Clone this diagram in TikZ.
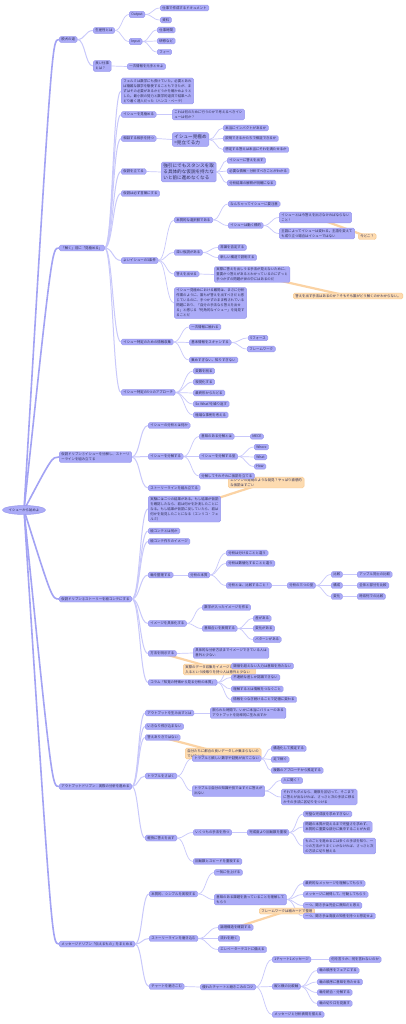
\documentclass[tikz,border=0pt]{standalone}
\usepackage{fontspec}
\usetikzlibrary{calc,shapes.geometric}
\newfontfamily\jp{Noto Sans CJK JP}
\newcommand\mmsmall{\jp\fontsize{3.4}{5}\selectfont}
\newcommand\mmmid{\jp\fontsize{4.6}{6}\selectfont}
\definecolor{nodefill}{HTML}{ABABF7}
\definecolor{nodedraw}{HTML}{9898EE}
\definecolor{linkc}{HTML}{C9C9FB}
\definecolor{rootlink}{HTML}{A3A3F4}
\definecolor{txt}{HTML}{2E2E55}
\definecolor{calfill}{HTML}{FDDBB0}
\definecolor{caldraw}{HTML}{F6C68C}
\definecolor{calline}{HTML}{FBD3A4}
\pgfdeclarelayer{back}\pgfdeclarelayer{ol}\pgfdeclarelayer{bg}\pgfdeclarelayer{cl}
\pgfsetlayers{back,ol,bg,cl,main}
\tikzset{
 box/.style={draw=nodedraw, fill=nodefill, rounded corners=1.6pt, line width=0.45pt,
   inner xsep=2.2pt, inner ysep=1.4pt, anchor=west, font=\mmsmall, text=txt, align=left},
 big/.style={box, font=\mmmid, inner ysep=1.8pt},
 call/.style={box, draw=caldraw, fill=calfill},
 lk/.style={draw=linkc, line width=0.7pt, to path={let \p1=(\tikztostart), \p2=(\tikztotarget), \n1={0.5*(\x2-\x1)} in .. controls +(\n1,0pt) and +(-\n1,0pt) .. (\tikztotarget)}},
 lk1/.style={lk, line width=1pt},
 rl/.style={draw=rootlink, line width=1.6pt},
 ol/.style={draw=calline, line width=2.2pt, line cap=round}
}
\newcommand\mmks[2]{\foreach \q in {#2}{\draw[lk] (#1.east) to (\q.west);}}
\newcommand\mmkt[2]{\foreach \q in {#2}{\draw[lk1] (#1.east) to (\q.west);}}
\newcommand\mmr[1]{\draw[rl] (root.center) .. controls ($(#1.west)+(-7pt,0pt)$) and ($(#1.west)+(-7pt,0pt)$) .. (#1.west);}
\begin{document}
\begin{tikzpicture}[x=1pt,y=-1pt]
\begin{pgfonlayer}{back}
\path[fill=white,use as bounding box] (0,0) rectangle (405,1024);
\end{pgfonlayer}
% root
\node[ellipse, draw=nodedraw, fill=nodefill, line width=0.45pt, minimum width=38pt, minimum height=9pt, inner sep=0pt, font=\mmsmall, text=txt] (root) at (24,510) {イシューから始めよ};
% A
\node[box] (A) at (59,39.5) {脱犬の道};
\node[box] (A1) at (93,30.5) {生産性とは};
\node[box] (A11) at (129,14.5) {Output};
\node[box] (A111) at (160,8) {仕事で作成するドキュメント};
\node[box] (A112) at (160,20) {資料};
\node[box] (A12) at (129,41.5) {Input};
\node[box] (A121) at (157,30) {仕事時間};
\node[box] (A122) at (157,41) {研修など};
\node[box] (A123) at (157,52) {フィー};
\node[box] (A2) at (93,66) {良い仕事\\とは？};
\node[box] (A21) at (127,66.5) {一次情報を元手とせよ};
% B
\node[box] (B) at (59,248) {「解く」前に「見極める」};
\node[box] (B1) at (121,91) {フェルミは数学にも長けていた。必要とあれ\\ば複雑な数学を駆使することもできたが、ま\\ずはその必要があるかどうかを確かめようと\\した。最小限の努力と数学的道具で結果へた\\どり着く達人だった（ハンス・ベーテ）};
\node[box] (B2) at (121,114.5) {イシューを見極める};
\node[box] (B21) at (172,114.5) {これは何のために行うのかで考えるべきイシ\\ューは何か？};
\node[box] (B3) at (121,138.5) {相談する相手を持つ};
\node[big] (B31) at (172,139.5) {イシュー見極め\\=見立てる力};
\node[box] (B311) at (223,128) {本当にインパクトがあるか};
\node[box] (B312) at (223,138.5) {説明できるかたちで検証できるか};
\node[box] (B313) at (223,149.5) {想定する答えは本当にそれを満たせるか};
\node[box] (B4) at (121,171.5) {仮説を立てる};
\node[big] (B41) at (161,172) {強引にでもスタンスを取\\る具体的な仮説を持たな\\いと前に進めなくなる};
\node[box] (B411) at (227,160.5) {イシューに答えを出す};
\node[box] (B412) at (227,171) {必要な情報・分析すべきことがわかる};
\node[box] (B413) at (227,183) {分析結果の解釈が明確になる};
\node[box] (B5) at (121,193.5) {仮説は必ず言葉にする};
\node[box] (B6) at (121,260.5) {よいイシューの3条件};
\node[box] (B61) at (174,220) {本質的な選択肢である};
\node[box] (B611) at (228,204) {なんちゃってイシューに要注意};
\node[box] (B612) at (228,225.5) {イシューは動く標的};
\node[box] (B6121) at (279,217.5) {イシューとは今答えを出さなければならない\\こと！};
\node[box] (B6122) at (279,233.5) {主語によってイシューは変わる。主語を変えて\\も成り立つ場合はイシューではない};
\node[box] (B62) at (174,252.5) {深い仮説がある};
\node[box] (B621) at (218,247.5) {常識を否定する};
\node[box] (B622) at (218,257.5) {新しい構造で説明する};
\node[box] (B63) at (174,274) {答えを出せる};
\node[box] (B631) at (214,274.5) {実際に答えを出しうる手法が見えないために、\\重要かつ答えがあるとわかっているのにずっと\\手つかずの問題が世の中にはあるのだ};
\node[box] (B64) at (174,303) {イシュー見極めにおける難問は、まさに分析\\作業のように、誰もが答えを出すべきだと感\\じているのに、手つかずのまま残されている\\問題にあり、「自分の手法なら答えを出せ\\る」と感じる「死角的なイシュー」を発見す\\ることだ};
\node[box] (B7) at (121,342) {イシュー特定のための情報収集};
\node[box] (B71) at (189,327) {一次情報に触れる};
\node[box] (B72) at (189,342.5) {基本情報をスキャンする};
\node[box] (B721) at (248,338) {5フォース};
\node[box] (B722) at (247,349) {フレームワーク};
\node[box] (B73) at (189,360) {集めすぎない、知りすぎない};
\node[box] (B8) at (121,392.5) {イシュー特定の5つのアプローチ};
\node[box] (B81) at (193,371) {変数を削る};
\node[box] (B82) at (193,382) {視覚化する};
\node[box] (B83) at (193,393) {最終形からたどる};
\node[box] (B84) at (193,404) {So What?を繰り返す};
\node[box] (B85) at (193,415) {極端な事例を考える};
% C
\node[box] (C) at (59,457) {仮説ドリブン①イシューを分解し、ストーリ\\ーラインを組み立てる};
\node[box] (C1) at (148,425.5) {イシューの分析とは何か};
\node[box] (C2) at (148,456.5) {イシューを分解する};
\node[box] (C21) at (199,436.5) {意味のある分解とは};
\node[box] (C211) at (250,436.5) {MECE};
\node[box] (C22) at (199,456.5) {イシューを分解する型};
\node[box] (C221) at (254,447) {Where};
\node[box] (C222) at (254,457) {What};
\node[box] (C223) at (254,466.5) {How};
\node[box] (C23) at (199,476) {分解してそれぞれに仮説を立てる};
\node[box] (C3) at (148,488) {ストーリーラインを組み立てる};
% D
\node[box] (D) at (59,599) {仮説ドリブン②ストーリーを絵コンテにする};
\node[box] (D1) at (148,509) {実験には二つの結果がある。もし結果が仮説\\を確認したなら、君は何かを計測したことに\\なる。もし結果が仮説に反していたら、君は\\何かを発見したことになる（エンリコ・フェ\\ルミ）};
\node[box] (D2) at (148,531) {絵コンテとは何か};
\node[box] (D3) at (148,541.5) {絵コンテ作りのイメージ};
\node[box] (D4) at (148,575) {軸を整理する};
\node[box] (D41) at (188,575) {分析の本質};
\node[box] (D411) at (226,553) {分析は分けることと違う};
\node[box] (D412) at (226,563.5) {分析は数値化することと違う};
\node[box] (D413) at (226,585.5) {分析とは、比較すること！};
\node[box] (D4131) at (287,585.5) {分析の三つの型};
\node[box] (Da) at (331,574.5) {比較};
\node[box] (Db) at (331,585.5) {構成};
\node[box] (Dc) at (331,596.5) {変化};
\node[box] (Daa) at (357,574.5) {アップル同士の比較};
\node[box] (Dbb) at (357,585.5) {全体と部分を比較};
\node[box] (Dcc) at (357,596.5) {時系列での比較};
\node[box] (D5) at (148,623.5) {イメージを具体化する};
\node[box] (D51) at (202,607.5) {数字が入ったイメージを作る};
\node[box] (D52) at (202,628.5) {意味合いを表現する};
\node[box] (D521) at (253,618.5) {差がある};
\node[box] (D522) at (253,628.5) {変化がある};
\node[box] (D523) at (253,639.5) {パターンがある};
\node[box] (D6) at (148,653.5) {方法を明示する};
\node[box] (D61) at (193,653) {具体的な分析方法までイメージできている人は\\意外と少ない};
\node[box] (D7) at (148,682.5) {コラム「知覚の特徴から見る分析の本質」};
\node[box] (D71) at (231,666) {閾値を超えない入力は意味を持たない};
\node[box] (D72) at (231,677.5) {不連続な差しか認識できない};
\node[box] (D73) at (231,689) {理解するとは情報をつなぐこと};
\node[box] (D74) at (231,699.5) {情報をつなぎ続けることで記憶に変わる};
% E
\node[box] (E) at (59,786.5) {アウトプットドリブン：実際の分析を進める};
\node[box] (E1) at (145,713) {アウトプットを生み出すとは};
\node[box] (E11) at (210,713) {限られた時間で、いかに本当にバリューのある\\アウトプットを効率的に生み出すか};
\node[box] (E2) at (145,726.5) {いきなり飛び込まない};
\node[box] (E3) at (145,737.5) {答えありきではない};
\node[box] (E4) at (145,776) {トラブルをさばく};
\node[box] (E41) at (192,758.5) {トラブル①欲しい数字や証拠が出てこない};
\node[box] (E411) at (271,748.5) {構造化して推定する};
\node[box] (E412) at (271,759.5) {足で稼ぐ};
\node[box] (E413) at (271,770.5) {複数のアプローチから推定する};
\node[box] (E42) at (192,791) {トラブル②自分の知識や技ではすぐに答えが\\出ない};
\node[box] (E421) at (281,780.5) {人に聞く！};
\node[box] (E422) at (281,797) {それでもダメなら、期限を区切って、そこまで\\に答えが出なければ、さっさと次の手法に移る\\かその手法に区切りをつける};
\node[box] (E5) at (145,838) {軽快に答えを出す};
\node[box] (E51) at (193,832.5) {いくつもの手法を持つ};
\node[box] (E511) at (247,832.5) {完成度より回転数を重視};
\node[box] (E5111) at (303,814) {完璧な完成度を求めすぎない};
\node[box] (E5112) at (303,827) {問題の本質が見えるまで完璧さを求めず、\\本質的に重要な部分に集中することが大切};
\node[box] (E5113) at (303,846) {ものごとを進めるには多くの手法を知り、一\\つの方法がうまくいかなければ、さっさと次\\の方法に切り替える};
\node[box] (E52) at (193,861.5) {回転数とスピードを重視する};
% F
\node[box] (F) at (59,944) {メッセージドリブン「伝えるもの」をまとめる};
\node[box] (F1) at (149,894) {本質的、シンプルを実現する};
\node[box] (F11) at (214,872.5) {一気に仕上げる};
\node[box] (F12) at (214,899.5) {意味のある課題を扱っていることを理解して\\もらう};
\node[box] (F121) at (303,883.5) {最終的なメッセージを理解してもらう};
\node[box] (F122) at (303,894.5) {メッセージに納得して、行動してもらう};
\node[box] (F123) at (303,905.5) {一つ、聞き手は完全に無知だと思え};
\node[box] (F124) at (303,916) {一つ、聞き手は高度の知性を持つと想定せよ};
\node[box] (F2) at (149,938.5) {ストーリーラインを磨き込む};
\node[box] (F21) at (218,927.5) {論理構造を確認する};
\node[box] (F22) at (218,938.5) {流れを磨く};
\node[box] (F23) at (218,949.5) {エレベーターテストに備える};
\node[box] (F3) at (149,986.5) {チャートを磨きこむ};
\node[box] (F31) at (200,987) {優れたチャートと磨きこみのコツ};
\node[box] (F311) at (272,959.5) {1チャート1メッセージ};
\node[box] (F3111) at (329,959.5) {何を言うか、何を言わないのか};
\node[box] (F312) at (272,986.5) {縦と横の比較軸};
\node[box] (F3121) at (317,970.5) {軸の順序をフェアにする};
\node[box] (F3122) at (317,982) {軸の順序に意味を持たせる};
\node[box] (F3123) at (317,992.5) {軸を統合・分解する};
\node[box] (F3124) at (317,1003.5) {軸の切り口を見直す};
\node[box] (F313) at (272,1014.5) {メッセージと分析表現を揃える};
% callouts
\begin{pgfonlayer}{cl}
\node[call] (K1) at (358,236.5) {今どこ？};
\node[call] (K2) at (293,296) {答えを出す手法はあるのか？そもそも誰がどう解くのかわからない。};
\node[call] (K3) at (228,482.5) {エジソンの発明のような発見？やっぱり直感的\\な仮説はすごい};
\node[call] (K4) at (183,669.5) {実際のデータ収集をイメージしてから分析に\\入るという段取りを持つ人は意外と少ない};
\node[call] (K5) at (185,753.5) {自分たちに都合の良いデータしか集まらないの\\ではないか};
\node[call] (K6) at (259,911) {フレームワークは紙カードで整理};
\end{pgfonlayer}
\begin{pgfonlayer}{ol}
\draw[ol] (B6121.center) -- (K1.center);
\draw[ol] (B631.center) -- (K2.center);
\draw[ol] (D1.center) -- (K3.center);
\draw[ol] (D6.center) -- (K4.center);
\draw[ol] (E3.center) -- (K5.center);
\draw[ol] (F21.center) -- (K6.center);
\end{pgfonlayer}
% links
\begin{pgfonlayer}{bg}
\mmr{A}\mmr{B}\mmr{C}\mmr{D}\mmr{E}\mmr{F}
\mmkt{A}{A1,A2}
\mmks{A1}{A11,A12}
\mmks{A11}{A111,A112}
\mmks{A12}{A121,A122,A123}
\mmks{A2}{A21}
\mmkt{B}{B1,B2,B3,B4,B5,B6,B7,B8}
\mmks{B2}{B21}
\mmks{B3}{B31}
\mmks{B31}{B311,B312,B313}
\mmks{B4}{B41}
\mmks{B41}{B411,B412,B413}
\mmks{B6}{B61,B62,B63,B64}
\mmks{B61}{B611,B612}
\mmks{B612}{B6121,B6122}
\mmks{B62}{B621,B622}
\mmks{B63}{B631}
\mmks{B7}{B71,B72,B73}
\mmks{B72}{B721,B722}
\mmks{B8}{B81,B82,B83,B84,B85}
\mmkt{C}{C1,C2,C3}
\mmks{C2}{C21,C22,C23}
\mmks{C21}{C211}
\mmks{C22}{C221,C222,C223}
\mmkt{D}{D1,D2,D3,D4,D5,D6,D7}
\mmks{D4}{D41}
\mmks{D41}{D411,D412,D413}
\mmks{D413}{D4131}
\mmks{D4131}{Da,Db,Dc}
\draw[lk] (Da.east) to (Daa.west);
\draw[lk] (Db.east) to (Dbb.west);
\draw[lk] (Dc.east) to (Dcc.west);
\mmks{D5}{D51,D52}
\mmks{D52}{D521,D522,D523}
\mmks{D6}{D61}
\mmks{D7}{D71,D72,D73,D74}
\mmkt{E}{E1,E2,E3,E4,E5}
\mmks{E1}{E11}
\mmks{E4}{E41,E42}
\mmks{E41}{E411,E412,E413}
\mmks{E42}{E421,E422}
\mmks{E5}{E51,E52}
\mmks{E51}{E511}
\mmks{E511}{E5111,E5112,E5113}
\mmkt{F}{F1,F2,F3}
\mmks{F1}{F11,F12}
\mmks{F12}{F121,F122,F123,F124}
\mmks{F2}{F21,F22,F23}
\mmks{F3}{F31}
\mmks{F31}{F311,F312,F313}
\mmks{F311}{F3111}
\mmks{F312}{F3121,F3122,F3123,F3124}
\end{pgfonlayer}
\end{tikzpicture}
\end{document}
